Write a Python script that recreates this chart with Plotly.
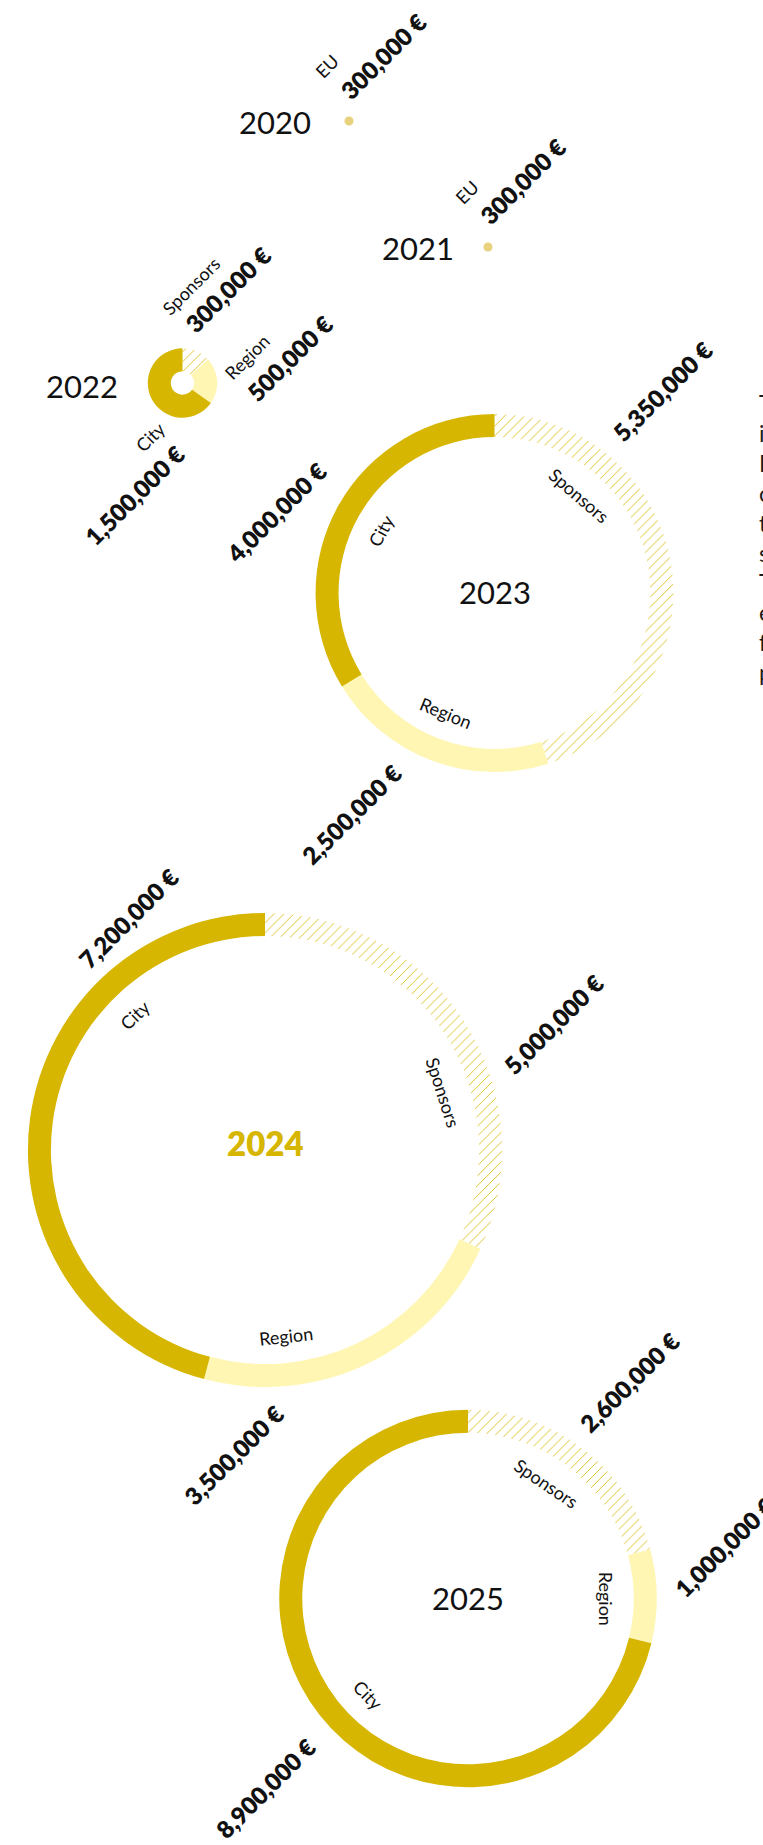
import math
import plotly.graph_objects as go

W, H = 763, 1845

# Funding per year and source (EUR)
sources_eu = ["EU"]
values_2020 = [300_000]
values_2021 = [300_000]
sources = ["Sponsors", "Region", "City"]
values_2022 = [300_000, 500_000, 1_500_000]
values_2023 = [5_350_000, 2_500_000, 4_000_000]
values_2024 = [5_000_000, 3_500_000, 7_200_000]
values_2025 = [2_600_000, 1_000_000, 8_900_000]

years = ["2020", "2021", "2022", "2023", "2024", "2025"]
year_sources = {"2020": sources_eu, "2021": sources_eu, "2022": sources,
                "2023": sources, "2024": sources, "2025": sources}
year_values = {"2020": values_2020, "2021": values_2021, "2022": values_2022,
               "2023": values_2023, "2024": values_2024, "2025": values_2025}

# ---- layout / style ----
FONT = "Lato"
INK = "#111111"
GOLD = "#D6B600"
COLORS = {"EU": "#E9D27D", "Sponsors": "#FFFFFF", "Region": "#FFF6B4", "City": GOLD}
PX_PER_MEUR = 15.1          # ring radius in px per million euro
RING = 23                   # ring thickness in px
NAME_SIZE = 18
VALUE_SIZE = 24
YEAR_SIZE = 31

CENTERS = {"2020": (349, 121), "2021": (488, 247), "2022": (182.5, 383),
           "2023": (494.5, 593), "2024": (265, 1150), "2025": (468, 1598.5)}
YEAR_LABEL_POS = {"2020": (275, 122), "2021": (418, 248), "2022": (82, 386),
                  "2023": (494.5, 592), "2024": (265, 1143), "2025": (468, 1598)}

# small charts: source name + amount, both rotated, offsets from the centre
SMALL_LABELS = {
    "2020": {"EU": ((-22, -55), (35, -65))},
    "2021": {"EU": ((-21, -55), (34, -66))},
    "2022": {"Sponsors": ((8.5, -97), (45.5, -93)),
             "Region": ((64.5, -26), (106.5, -25)),
             "City": ((-32.5, 54), (-48.5, 112))},
}
# large rings: source names sit inside the ring (angle clockwise from top)
INNER_ANGLES = {
    "2023": {"Sponsors": 40.7, "Region": 202, "City": 299},
    "2024": {"Sponsors": 72, "Region": 173.7, "City": 316},
    "2025": {"Sponsors": 34, "Region": 90, "City": 226},
}
# amounts outside the large rings, offsets from the centre
VALUE_OFFSETS = {
    "2023": {"Sponsors": (167.5, -202), "Region": (-143.5, 221), "City": (-218.5, -81)},
    "2024": {"Sponsors": (288, -126), "Region": (-31, 304), "City": (-137, -232)},
    "2025": {"Sponsors": (161, -216.5), "Region": (256, -51.5), "City": (-203, 189.5)},
}

PARAGRAPH = [
    "The budget for the festival has",
    "increased significantly since 2022.",
    "In addition to the city and the region,",
    "companies and foundations support",
    "the programme as sponsors, making",
    "such growth possible.",
    "The EU co-financed the first two",
    "editions, which laid the foundation",
    "for the expansion of the",
    "programme.",
]


def px(x, y):
    return x / W, 1 - y / H


def euro(v):
    return f"{v:,} €"


fig = go.Figure()
annotations = []


def add_text(x, y, text, size, angle=0, weight=400, color=INK, xanchor="center",
             yanchor="middle", align="center"):
    ax, ay = px(x, y)
    annotations.append(dict(
        x=ax, y=ay, xref="paper", yref="paper", text=text,
        showarrow=False, textangle=angle, xanchor=xanchor, yanchor=yanchor, align=align,
        font=dict(family=FONT, size=size, color=color, weight=weight)))


for yr in years:
    labels = year_sources[yr]
    vals = year_values[yr]
    total = sum(vals)
    r = PX_PER_MEUR * total / 1e6
    hole = max(0.0, (r - RING) / r)
    cx, cy = CENTERS[yr]
    x0, y1 = px(cx - r, cy - r)
    x1, y0 = px(cx + r, cy + r)
    fig.add_trace(go.Pie(
        labels=labels, values=vals, sort=False, direction="clockwise", rotation=0,
        hole=hole, textinfo="none", hoverinfo="label+value",
        domain=dict(x=[x0, x1], y=[y0, y1]),
        marker=dict(
            colors=[COLORS[s] for s in labels], line=dict(width=0),
            pattern=dict(shape=["/" if s == "Sponsors" else "" for s in labels],
                         fgcolor=GOLD, fgopacity=0.9, size=7, solidity=0.13),
        ),
    ))

    # year label
    lx, ly = YEAR_LABEL_POS[yr]
    if yr == "2024":
        add_text(lx, ly, yr, YEAR_SIZE + 2, weight=800, color=GOLD)
    else:
        add_text(lx, ly, yr, YEAR_SIZE)

    if yr in SMALL_LABELS:
        for s, v in zip(labels, vals):
            (nx, ny), (vx, vy) = SMALL_LABELS[yr][s]
            add_text(cx + nx, cy + ny, s, NAME_SIZE, angle=-45)
            add_text(cx + vx, cy + vy, euro(v), VALUE_SIZE, angle=-45, weight=800)
    else:
        r_in = r - RING
        d = r_in - 27
        for s, v in zip(labels, vals):
            th = INNER_ANGLES[yr][s]
            tx = cx + d * math.sin(math.radians(th))
            ty = cy - d * math.cos(math.radians(th))
            ang = th - 180 if 90 < th < 270 else th
            if ang > 180:
                ang -= 360
            add_text(tx, ty, s, NAME_SIZE, angle=ang)
            ox, oy = VALUE_OFFSETS[yr][s]
            add_text(cx + ox, cy + oy, euro(v), VALUE_SIZE, angle=-45, weight=800)

# explanatory paragraph on the right
add_text(757, 387, "<br>".join(PARAGRAPH), 23, xanchor="left", yanchor="top",
         align="left", color="#1a1a1a")

fig.update_layout(
    width=W, height=H, margin=dict(l=0, r=0, t=0, b=0, pad=0),
    paper_bgcolor="white", plot_bgcolor="white", showlegend=False,
    annotations=annotations,
)

fig.write_html("out.html")
